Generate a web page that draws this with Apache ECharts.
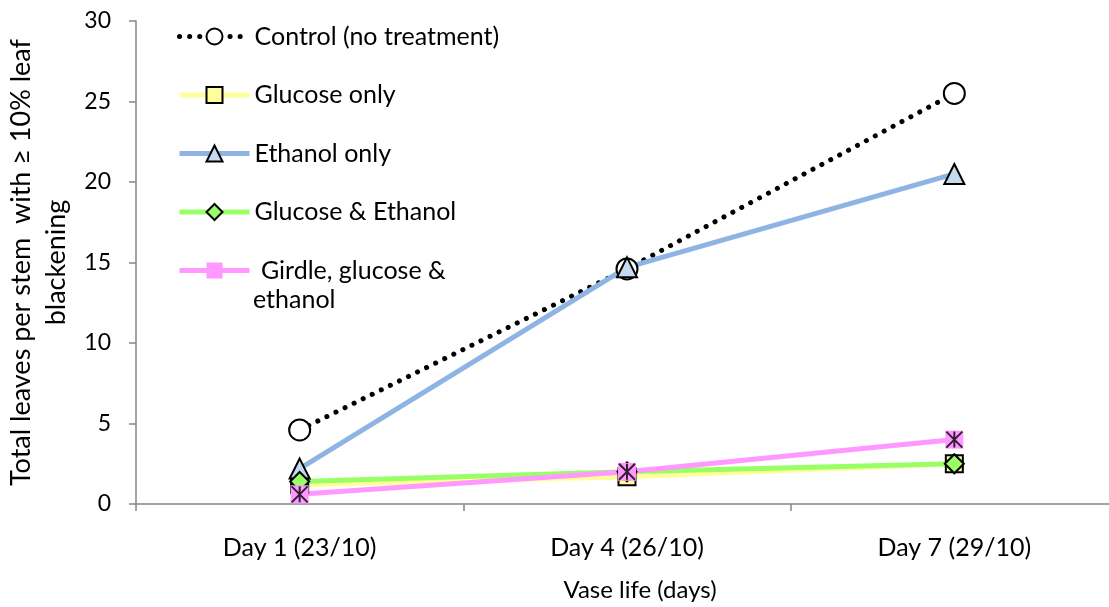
<!DOCTYPE html>
<html>
<head>
<meta charset="utf-8">
<script src="https://cdn.jsdelivr.net/npm/echarts@6/dist/echarts.min.js"></script>
<style>html,body{margin:0;padding:0;background:#fff}#c{width:1109px;height:607px}</style>
</head>
<body>
<div id="c"></div>
<script>
const categories = ['Day 1 (23/10)', 'Day 4 (26/10)', 'Day 7 (29/10)'];
const control = [4.6, 14.6, 25.5];
const glucoseOnly = [1.2, 1.7, 2.5];
const ethanolOnly = [2.2, 14.7, 20.5];
const glucoseEthanol = [1.4, 2.0, 2.5];
const girdle = [0.6, 2.0, 4.0];
const yTicks = { min: 0, max: 30, interval: 5 };

const FONT = 'Lato';
const asterisk = 'path://M0,0L10,10M10,0L0,10M5,0L5,10';

const chart = echarts.init(document.getElementById('c'), null, { renderer: 'canvas' });
chart.setOption({
  animation: false,
  textStyle: { fontFamily: FONT, color: '#000' },
  grid: { left: 136, top: 21, bottom: 103, right: -9, containLabel: false, outerBoundsMode: 'none' },
  legend: {
    orient: 'vertical', left: 177, top: 24, padding: 0,
    itemWidth: 70, itemHeight: 20, itemGap: 33.5,
    lineStyle: { width: 5 },
    textStyle: { fontFamily: FONT, fontSize: 25, color: '#000', lineHeight: 20 },
    data: ['Control (no treatment)', 'Glucose only', 'Ethanol only', 'Glucose & Ethanol', ' Girdle, glucose &']
  },
  graphic: [{
    type: 'text', left: 253, top: 287,
    style: { text: 'ethanol', font: '25px ' + FONT, fill: '#000' }
  }],
  xAxis: {
    type: 'category', data: categories, boundaryGap: true,
    axisLine: { lineStyle: { color: '#868686', width: 1.5 } },
    axisTick: { show: true, length: 7, alignWithLabel: false, lineStyle: { color: '#868686', width: 1.5 } },
    axisLabel: { fontSize: 25, margin: 31, color: '#000', fontFamily: FONT },
    name: 'Vase life (days)', nameLocation: 'middle', nameGap: 74,
    nameTextStyle: { fontSize: 24, fontFamily: FONT, color: '#000', padding: [0, 0, 0, 26] }
  },
  yAxis: {
    type: 'value', min: yTicks.min, max: yTicks.max, interval: yTicks.interval,
    splitLine: { show: false },
    axisLine: { show: true, lineStyle: { color: '#868686', width: 1.5 } },
    axisTick: { show: true, length: 7, lineStyle: { color: '#868686', width: 1.5 } },
    axisLabel: { fontSize: 23, margin: 25, color: '#000', fontFamily: FONT },
    name: 'Total leaves per stem  with \u2265 10% leaf\nblackening', nameLocation: 'middle', nameGap: 59, nameRotate: 90,
    nameTextStyle: { fontSize: 27, fontFamily: FONT, color: '#000', lineHeight: 35 }
  },
  series: [
    {
      name: 'Control (no treatment)', type: 'line', data: control,
      symbol: 'circle', symbolSize: 21,
      lineStyle: { color: '#000', width: 5, type: [0.1, 10], cap: 'round' },
      itemStyle: { color: '#fff', borderColor: '#000', borderWidth: 2 }
    },
    {
      name: 'Glucose only', type: 'line', data: glucoseOnly,
      symbol: 'rect', symbolSize: 17,
      lineStyle: { color: '#FFFF99', width: 5 },
      itemStyle: { color: '#FFFF99', borderColor: '#000', borderWidth: 2 }
    },
    {
      name: 'Ethanol only', type: 'line', data: ethanolOnly,
      symbol: 'triangle', symbolSize: 20,
      lineStyle: { color: '#8DB4E2', width: 5 },
      itemStyle: { color: '#C6D9F1', borderColor: '#000', borderWidth: 2 }
    },
    {
      name: 'Glucose & Ethanol', type: 'line', data: glucoseEthanol,
      symbol: 'diamond', symbolSize: 19,
      lineStyle: { color: '#99FF66', width: 5 },
      itemStyle: { color: '#99FF66', borderColor: '#000', borderWidth: 2 }
    },
    {
      name: ' Girdle, glucose &', type: 'line', data: girdle,
      symbol: 'rect', symbolSize: 18,
      lineStyle: { color: '#FF99FF', width: 5 },
      itemStyle: { color: '#FF99FF', borderColor: '#FF99FF', borderWidth: 0 }
    },
    {
      name: 'girdle-asterisk', type: 'scatter', data: girdle, silent: true,
      symbol: asterisk, symbolSize: 16, z: 5,
      itemStyle: { color: 'none', borderColor: '#000', borderWidth: 2 }
    }
  ]
});
</script>
</body>
</html>
